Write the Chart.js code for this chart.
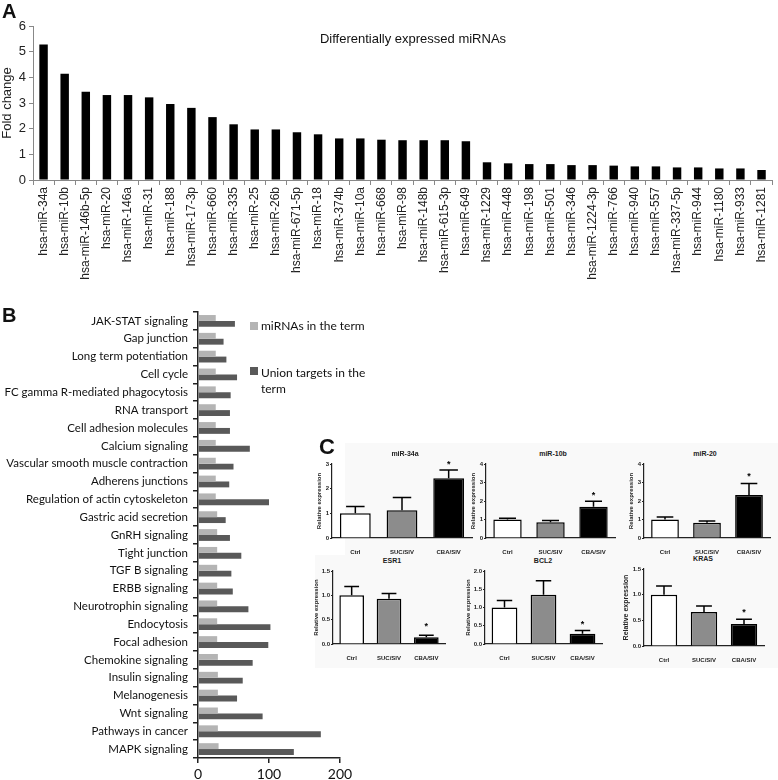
<!DOCTYPE html>
<html><head><meta charset="utf-8">
<script src="https://cdn.jsdelivr.net/npm/chart.js@4.4.1/dist/chart.umd.min.js"></script>
<style>
html,body{margin:0;padding:0;background:#fff;width:778px;height:780px;overflow:hidden;position:relative;}
canvas{position:absolute;}
.t{position:absolute;white-space:nowrap;font-family:"Liberation Sans",Arial,sans-serif;color:#111;line-height:1;}
.c{transform:translate(-50%,-50%);}
.sq{position:absolute;width:8px;height:8px;}
.bg{position:absolute;background:#f9f9f9;}
</style></head><body>
<div class="bg" style="left:345px;top:443px;width:433px;height:112px"></div>
<div class="bg" style="left:315px;top:555px;width:463px;height:113px"></div>
<canvas id="cA" width="778" height="290" style="left:0;top:0"></canvas>
<canvas id="cB" width="360" height="490" style="left:0;top:290px"></canvas>
<div class="t" style="left:2px;top:1px;font-size:20px;font-weight:bold">A</div>
<div class="t c" style="left:413px;top:38px;font-size:13px">Differentially expressed miRNAs</div>
<div class="t" style="left:2px;top:305px;font-size:20px;font-weight:bold">B</div>
<div class="sq" style="left:250px;top:322px;background:#b4b4b4"></div>
<div class="t" style="left:261px;top:320px;font-family:Lato;font-size:12px">miRNAs in the term</div>
<div class="sq" style="left:250px;top:367px;background:#595959"></div>
<div class="t" style="left:261px;top:365px;font-family:Lato;font-size:12px;line-height:16px">Union targets in the<br>term</div>
<div class="t" style="left:319px;top:436px;font-size:22px;font-weight:bold">C</div>
<div id="ctitles"></div>
<script>
// ---------- Data ----------
const mirnaLabels = ['hsa-miR-34a','hsa-miR-10b','hsa-miR-146b-5p','hsa-miR-20','hsa-miR-146a','hsa-miR-31','hsa-miR-188','hsa-miR-17-3p','hsa-miR-660','hsa-miR-335','hsa-miR-25','hsa-miR-26b','hsa-miR-671-5p','hsa-miR-18','hsa-miR-374b','hsa-miR-10a','hsa-miR-668','hsa-miR-98','hsa-miR-148b','hsa-miR-615-3p','hsa-miR-649','hsa-miR-1229','hsa-miR-448','hsa-miR-198','hsa-miR-501','hsa-miR-346','hsa-miR-1224-3p','hsa-miR-766','hsa-miR-940','hsa-miR-557','hsa-miR-337-5p','hsa-miR-944','hsa-miR-1180','hsa-miR-933','hsa-miR-1281'];
const foldChange = [5.28,4.14,3.44,3.31,3.31,3.22,2.96,2.81,2.45,2.17,1.97,1.97,1.86,1.78,1.62,1.62,1.57,1.55,1.55,1.55,1.51,0.69,0.65,0.62,0.62,0.58,0.58,0.56,0.53,0.53,0.49,0.49,0.45,0.45,0.39];
const foldTicks = [0,1,2,3,4,5,6];

const termLabels = ['JAK-STAT signaling','Gap junction','Long term potentiation','Cell cycle','FC gamma R-mediated phagocytosis','RNA transport','Cell adhesion molecules','Calcium signaling','Vascular smooth muscle contraction','Adherens junctions','Regulation of actin cytoskeleton','Gastric acid secretion','GnRH signaling','Tight junction','TGF B signaling','ERBB signaling','Neurotrophin signaling','Endocytosis','Focal adhesion','Chemokine signaling','Insulin signaling','Melanogenesis','Wnt signaling','Pathways in cancer','MAPK signaling'];
const mirnasInTerm = [25,25,25,25,25,25,25,25,25,25,25,27,27,27,27,27,27,27,27,28,28,28,28,28,29];
const unionTargets = [52,36,40,55,46,45,45,73,50,44,100,39,45,61,47,49,71,102,99,77,63,55,91,173,135];
const termTicks = [0,100,200];

const groups = ['Ctrl','SUC/SIV','CBA/SIV'];
const miR34aMean = [1.00,1.12,2.42], miR34aErr = [0.28,0.52,0.34], miR34aStar = [null,null,3.05];
const miR10bMean = [1.00,0.85,1.69], miR10bErr = [0.07,0.09,0.29], miR10bStar = [null,null,2.38];
const miR20Mean  = [1.00,0.83,2.32], miR20Err  = [0.13,0.09,0.62], miR20Star  = [null,null,3.42];
const esr1Mean   = [1.00,0.93,0.14], esr1Err   = [0.18,0.11,0.04], esr1Star   = [null,null,0.40];
const bcl2Mean   = [1.00,1.35,0.28], bcl2Err   = [0.19,0.38,0.09], bcl2Star   = [null,null,0.58];
const krasMean   = [1.00,0.66,0.43], krasErr   = [0.17,0.12,0.09], krasStar   = [null,null,0.69];

// ---------- Panel A ----------
const AR = 'Liberation Sans';
new Chart(document.getElementById('cA'), {
  type:'bar',
  data:{labels:mirnaLabels, datasets:[{data:foldChange, backgroundColor:'#000', barPercentage:0.4, categoryPercentage:1}]},
  options:{responsive:false, animation:false, events:[],
    layout:{padding:{top:26,right:5,left:0,bottom:0}},
    plugins:{legend:{display:false},tooltip:{enabled:false}},
    scales:{
      x:{grid:{drawOnChartArea:false,color:'#888',tickLength:5,offset:true}, border:{color:'#888'},
         ticks:{minRotation:90,maxRotation:90,autoSkip:false,font:{family:AR,size:12},color:'#222',padding:2},
         afterFit(s){s.height=110;}},
      y:{min:0,max:6, afterBuildTicks(s){s.ticks=foldTicks.map(v=>({value:v}));},
         ticks:{font:{family:AR,size:13},color:'#222',padding:3},
         grid:{drawOnChartArea:false,tickLength:4,color:'#888'}, border:{color:'#888'},
         title:{display:true,text:'Fold change',font:{family:AR,size:13},color:'#222',padding:0},
         afterFit(s){s.width=33;}}
    }
  }
});

// ---------- Panel B ----------
new Chart(document.getElementById('cB'), {
  type:'bar',
  data:{labels:termLabels, datasets:[
    {label:'miRNAs in the term', data:mirnasInTerm, backgroundColor:'#b4b4b4', barPercentage:1, categoryPercentage:0.66},
    {label:'Union targets in the term', data:unionTargets, backgroundColor:'#595959', barPercentage:1, categoryPercentage:0.66}
  ]},
  options:{indexAxis:'y', responsive:false, animation:false, events:[],
    layout:{padding:{top:22,right:20,left:0,bottom:0}},
    plugins:{legend:{display:false},tooltip:{enabled:false}},
    scales:{
      y:{grid:{drawOnChartArea:false,offset:true,tickLength:5,color:'#222',lineWidth:1.5}, border:{color:'#222',width:1.5},
         ticks:{font:{family:'Lato',size:11.5},color:'#111',padding:5,autoSkip:false},
         afterFit(s){s.width=198;}},
      x:{min:0,max:200, afterBuildTicks(s){s.ticks=termTicks.map(v=>({value:v}));},
         ticks:{font:{family:'Lato',size:14},color:'#111',padding:3},
         grid:{drawOnChartArea:false,tickLength:5,color:'#222',lineWidth:1.5}, border:{color:'#222',width:1.5},
         afterFit(s){s.height=22;}}
    }
  }
});

// ---------- Panel C ----------
const errPlugin = {
  id:'errbars',
  afterDatasetsDraw(chart){
    const ds = chart.data.datasets[0], meta = chart.getDatasetMeta(0), ys = chart.scales.y, ctx = chart.ctx;
    ctx.save();
    ctx.strokeStyle = '#000'; ctx.lineWidth = 1.5;
    meta.data.forEach((el,i)=>{
      const top = ys.getPixelForValue(ds.data[i] + ds.errors[i]);
      const cap = el.width*0.3;
      ctx.beginPath();
      ctx.moveTo(el.x, el.y); ctx.lineTo(el.x, top);
      ctx.moveTo(el.x-cap, top); ctx.lineTo(el.x+cap, top);
      ctx.stroke();
      if (ds.stars[i] != null) {
        ctx.fillStyle = '#000';
        ctx.font = 'bold 9px "Liberation Sans"';
        ctx.textAlign = 'center'; ctx.textBaseline = 'middle';
        ctx.fillText('*', el.x, ys.getPixelForValue(ds.stars[i]) + 2);
      }
    });
    ctx.restore();
  }
};

function cChart(title, mean, err, star, max, step, decimals, L, R, T, B, yw, titleX, titleY, ytSize) {
  const cv = document.createElement('canvas');
  const padT = 10, padR = 6, xh = 16;
  const left = L - yw, top = T - padT;
  cv.width = R - left + padR; cv.height = B - top + xh;
  cv.style.left = left + 'px'; cv.style.top = top + 'px';
  document.body.appendChild(cv);
  const tt = document.createElement('div');
  tt.className = 't c';
  tt.style.cssText = `left:${titleX}px;top:${titleY}px;font-size:7px;font-weight:bold;color:#222`;
  tt.textContent = title;
  document.getElementById('ctitles').appendChild(tt);
  const tv = []; for (let v = 0; v <= max + 1e-9; v += step) tv.push(+v.toFixed(2));
  new Chart(cv, {
    type:'bar',
    data:{labels:groups, datasets:[{data:mean, errors:err, stars:star,
      backgroundColor:['#fff','#8c8c8c','#000'], borderColor:'#000', borderWidth:1.5, borderSkipped:'bottom',
      barPercentage:0.66, categoryPercentage:1}]},
    plugins:[errPlugin],
    options:{responsive:false, animation:false, events:[],
      layout:{padding:{top:padT,right:padR,left:0,bottom:0}},
      plugins:{legend:{display:false},tooltip:{enabled:false}},
      scales:{
        x:{grid:{display:false}, border:{color:'#222',width:1.2},
           ticks:{font:{family:AR,size:6,weight:'bold'},color:'#222',padding:3},
           afterFit(s){s.height=xh;}},
        y:{min:0,max:max, afterBuildTicks(s){s.ticks=tv.map(v=>({value:v}));},
           ticks:{font:{family:AR,size:6,weight:'bold'},color:'#222',padding:1,
                  callback:(v)=>Number(v).toFixed(decimals)},
           grid:{drawOnChartArea:false,tickLength:2,color:'#222'}, border:{color:'#222',width:1.2},
           title:{display:true,text:'Relative expression',font:{family:AR,size:ytSize,weight:'bold'},color:'#222',padding:0},
           afterFit(s){s.width=yw;}}
      }
    }
  });
}

cChart('miR-34a', miR34aMean, miR34aErr, miR34aStar, 3, 1, 0, 332, 472, 464, 538, 16, 405, 453, 6);
cChart('miR-10b', miR10bMean, miR10bErr, miR10bStar, 4, 1, 0, 486, 615, 464, 538, 16, 553, 453, 6);
cChart('miR-20',  miR20Mean,  miR20Err,  miR20Star,  4, 1, 0, 644, 770, 464, 538, 16, 705, 453, 6);
cChart('ESR1',    esr1Mean,   esr1Err,   esr1Star,   1.5, 0.5, 1, 333, 445, 571, 644, 20, 392, 560, 6);
cChart('BCL2',    bcl2Mean,   bcl2Err,   bcl2Star,   2, 0.5, 1, 485, 602, 571, 644, 20, 543, 560, 6);
cChart('KRAS',    krasMean,   krasErr,   krasStar,   1.5, 0.5, 1, 644, 764, 569, 646, 22, 703, 558, 7);
</script>
</body></html>
